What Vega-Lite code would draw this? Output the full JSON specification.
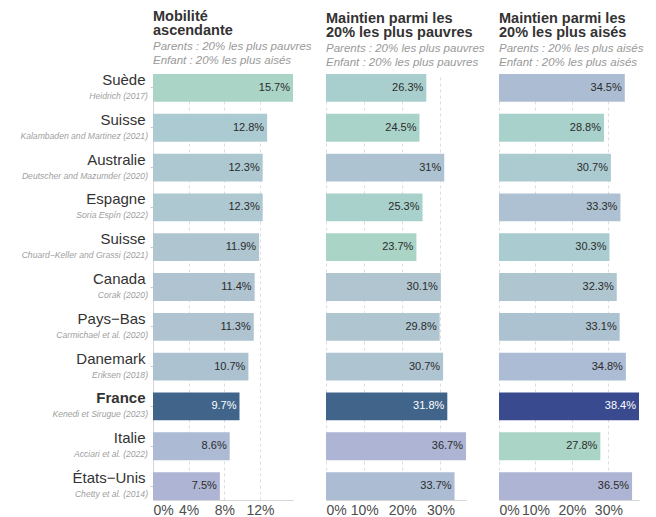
{
  "$schema": "https://vega.github.io/schema/vega-lite/v6.json",
  "padding": {"left": 20, "top": 8, "right": 10, "bottom": 2},
  "bounds": "flush",
  "spacing": 33,
  "config": {
    "view": {"stroke": null},
    "font": "Liberation Sans",
    "title": {"anchor": "start", "frame": "group", "fontSize": 14.5, "fontWeight": "bold", "color": "#333333", "lineHeight": 14.5, "subtitleFontSize": 11.5, "subtitleFontStyle": "italic", "subtitleColor": "#999999", "subtitleLineHeight": 14, "subtitlePadding": 2, "offset": 5},
    "axisX": {"grid": true, "gridColor": "#dddddd", "gridDash": [3, 3], "domainColor": "#d6d6d6", "ticks": false, "labelFontSize": 14, "labelColor": "#4d4d4d", "labelPadding": 3, "title": null, "format": ".0%"},
    "axisY": {"grid": false, "title": null}
  },
  "datasets": {
    "rows": [
      {"key": "Suède|1", "country": "Suède", "source": "Heidrich (2017)", "panel": 1, "value": 0.157},
      {"key": "Suisse|2", "country": "Suisse", "source": "Kalambaden and Martinez (2021)", "panel": 1, "value": 0.128},
      {"key": "Australie|3", "country": "Australie", "source": "Deutscher and Mazumder (2020)", "panel": 1, "value": 0.123},
      {"key": "Espagne|4", "country": "Espagne", "source": "Soria Espín (2022)", "panel": 1, "value": 0.123},
      {"key": "Suisse|5", "country": "Suisse", "source": "Chuard−Keller and Grassi (2021)", "panel": 1, "value": 0.119},
      {"key": "Canada|6", "country": "Canada", "source": "Corak (2020)", "panel": 1, "value": 0.114},
      {"key": "Pays−Bas|7", "country": "Pays−Bas", "source": "Carmichael et al. (2020)", "panel": 1, "value": 0.113},
      {"key": "Danemark|8", "country": "Danemark", "source": "Eriksen (2018)", "panel": 1, "value": 0.107},
      {"key": "France|9", "country": "France", "source": "Kenedi et Sirugue (2023)", "panel": 1, "value": 0.097},
      {"key": "Italie|10", "country": "Italie", "source": "Acciari et al. (2022)", "panel": 1, "value": 0.086},
      {"key": "États−Unis|11", "country": "États−Unis", "source": "Chetty et al. (2014)", "panel": 1, "value": 0.075},
      {"key": "Suède|1", "country": "Suède", "source": "Heidrich (2017)", "panel": 2, "value": 0.263},
      {"key": "Suisse|2", "country": "Suisse", "source": "Kalambaden and Martinez (2021)", "panel": 2, "value": 0.245},
      {"key": "Australie|3", "country": "Australie", "source": "Deutscher and Mazumder (2020)", "panel": 2, "value": 0.31},
      {"key": "Espagne|4", "country": "Espagne", "source": "Soria Espín (2022)", "panel": 2, "value": 0.253},
      {"key": "Suisse|5", "country": "Suisse", "source": "Chuard−Keller and Grassi (2021)", "panel": 2, "value": 0.237},
      {"key": "Canada|6", "country": "Canada", "source": "Corak (2020)", "panel": 2, "value": 0.301},
      {"key": "Pays−Bas|7", "country": "Pays−Bas", "source": "Carmichael et al. (2020)", "panel": 2, "value": 0.298},
      {"key": "Danemark|8", "country": "Danemark", "source": "Eriksen (2018)", "panel": 2, "value": 0.307},
      {"key": "France|9", "country": "France", "source": "Kenedi et Sirugue (2023)", "panel": 2, "value": 0.318},
      {"key": "Italie|10", "country": "Italie", "source": "Acciari et al. (2022)", "panel": 2, "value": 0.367},
      {"key": "États−Unis|11", "country": "États−Unis", "source": "Chetty et al. (2014)", "panel": 2, "value": 0.337},
      {"key": "Suède|1", "country": "Suède", "source": "Heidrich (2017)", "panel": 3, "value": 0.345},
      {"key": "Suisse|2", "country": "Suisse", "source": "Kalambaden and Martinez (2021)", "panel": 3, "value": 0.288},
      {"key": "Australie|3", "country": "Australie", "source": "Deutscher and Mazumder (2020)", "panel": 3, "value": 0.307},
      {"key": "Espagne|4", "country": "Espagne", "source": "Soria Espín (2022)", "panel": 3, "value": 0.333},
      {"key": "Suisse|5", "country": "Suisse", "source": "Chuard−Keller and Grassi (2021)", "panel": 3, "value": 0.303},
      {"key": "Canada|6", "country": "Canada", "source": "Corak (2020)", "panel": 3, "value": 0.323},
      {"key": "Pays−Bas|7", "country": "Pays−Bas", "source": "Carmichael et al. (2020)", "panel": 3, "value": 0.331},
      {"key": "Danemark|8", "country": "Danemark", "source": "Eriksen (2018)", "panel": 3, "value": 0.348},
      {"key": "France|9", "country": "France", "source": "Kenedi et Sirugue (2023)", "panel": 3, "value": 0.384},
      {"key": "Italie|10", "country": "Italie", "source": "Acciari et al. (2022)", "panel": 3, "value": 0.278},
      {"key": "États−Unis|11", "country": "États−Unis", "source": "Chetty et al. (2014)", "panel": 3, "value": 0.365}
    ]
  },
  "data": {"name": "rows"},
  "resolve": {"scale": {"color": "independent", "x": "independent"}},
  "hconcat": [
    {
      "width": 140, "height": 426,
      "title": {"text": ["Mobilité", "ascendante"], "subtitle": ["Parents : 20% les plus pauvres", "Enfant : 20% les plus aisés"]},
      "transform": [{"filter": "datum.panel == 1"}],
      "encoding": {
        "y": {"field": "key", "type": "nominal", "sort": null, "scale": {"paddingInner": 0.3, "paddingOuter": 0},
          "axis": {"labelExpr": "split(datum.value, '|')[0]", "labelFontSize": 15, "labelColor": "#333333", "labelOffset": -8, "labelPadding": 5,
            "labelFontWeight": {"condition": {"test": "indexof(datum.value, 'France') == 0", "value": "bold"}, "value": "normal"},
            "domainColor": "#d6d6d6", "tickColor": "#cccccc", "tickSize": 3}}
      },
      "layer": [
        {"mark": {"type": "bar"},
          "encoding": {
            "x": {"field": "value", "type": "quantitative", "scale": {"nice": false}, "axis": {"values": [0, 0.04, 0.08, 0.12]}},
            "color": {"condition": {"test": "datum.country === 'France'", "value": "#41658a"}, "field": "value", "type": "quantitative",
              "scale": {"domain": [0.075, 0.157], "range": ["#aeb5d4", "#b0c5d0", "#aad4c6"]}, "legend": null}}},
        {"mark": {"type": "text", "align": "right", "dx": -3, "fontSize": 11},
          "encoding": {
            "x": {"field": "value", "type": "quantitative"},
            "text": {"field": "value", "type": "quantitative", "format": ".1~%"},
            "color": {"condition": {"test": "datum.country === 'France'", "value": "#ffffff"}, "value": "#2b2b2b"}}},
        {"mark": {"type": "text", "align": "right", "dx": -5, "dy": 8, "fontSize": 8.6, "fontStyle": "italic", "color": "#a0a0a0"},
          "encoding": {
            "x": {"datum": 0, "type": "quantitative"},
            "text": {"field": "source"},
            "fontWeight": {"condition": {"test": "datum.country === 'France'", "value": "bold"}, "value": "normal"}}}
      ]
    },
    {
      "width": 140, "height": 426,
      "title": {"text": ["Maintien parmi les", "20% les plus pauvres"], "subtitle": ["Parents : 20% les plus pauvres", "Enfant : 20% les plus pauvres"]},
      "transform": [{"filter": "datum.panel == 2"}],
      "encoding": {
        "y": {"field": "key", "type": "nominal", "sort": null, "scale": {"paddingInner": 0.3, "paddingOuter": 0}, "axis": null}
      },
      "layer": [
        {"mark": {"type": "bar"},
          "encoding": {
            "x": {"field": "value", "type": "quantitative", "scale": {"nice": false}, "axis": {"values": [0, 0.1, 0.2, 0.3]}},
            "color": {"condition": {"test": "datum.country === 'France'", "value": "#41658a"}, "field": "value", "type": "quantitative",
              "scale": {"domain": [0.237, 0.367], "range": ["#aad4c6", "#b0c5d0", "#aeb5d4"]}, "legend": null}}},
        {"mark": {"type": "text", "align": "right", "dx": -3, "fontSize": 11},
          "encoding": {
            "x": {"field": "value", "type": "quantitative"},
            "text": {"field": "value", "type": "quantitative", "format": ".1~%"},
            "color": {"condition": {"test": "datum.country === 'France'", "value": "#ffffff"}, "value": "#2b2b2b"}}}
      ]
    },
    {
      "width": 140, "height": 426,
      "title": {"text": ["Maintien parmi les", "20% les plus aisés"], "subtitle": ["Parents : 20% les plus aisés", "Enfant : 20% les plus aisés"]},
      "transform": [{"filter": "datum.panel == 3"}],
      "encoding": {
        "y": {"field": "key", "type": "nominal", "sort": null, "scale": {"paddingInner": 0.3, "paddingOuter": 0}, "axis": null}
      },
      "layer": [
        {"mark": {"type": "bar"},
          "encoding": {
            "x": {"field": "value", "type": "quantitative", "scale": {"nice": false}, "axis": {"values": [0, 0.1, 0.2, 0.3]}},
            "color": {"condition": {"test": "datum.country === 'France'", "value": "#3a4a8e"}, "field": "value", "type": "quantitative",
              "scale": {"domain": [0.278, 0.365], "range": ["#aad4c6", "#b0c5d0", "#aeb5d4"]}, "legend": null}}},
        {"mark": {"type": "text", "align": "right", "dx": -3, "fontSize": 11},
          "encoding": {
            "x": {"field": "value", "type": "quantitative"},
            "text": {"field": "value", "type": "quantitative", "format": ".1~%"},
            "color": {"condition": {"test": "datum.country === 'France'", "value": "#ffffff"}, "value": "#2b2b2b"}}}
      ]
    }
  ]
}
